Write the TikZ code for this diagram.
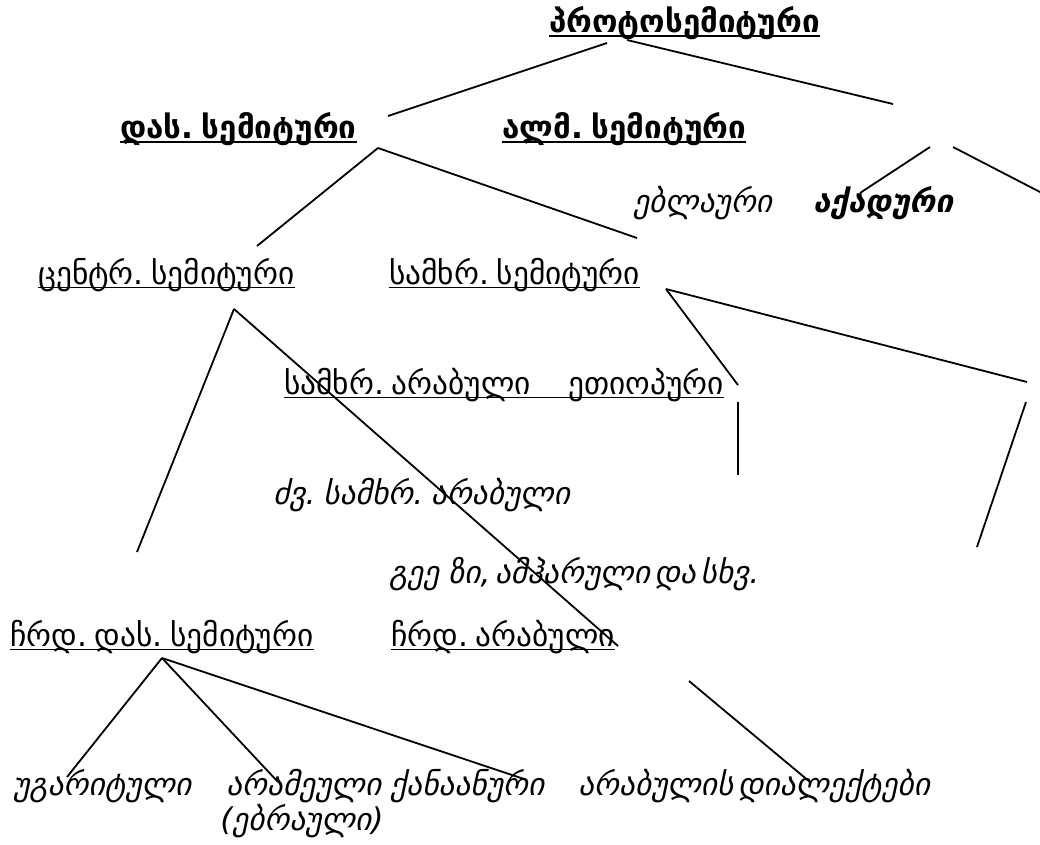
\documentclass[tikz,border=0pt]{standalone}
\usepackage{fontspec}
\setmainfont[WordSpace=0.45]{DejaVu Sans}
\usepackage{tikz}
\tikzset{
	lang/.style={inner sep=0pt, anchor=base west, font=\fontsize{23.5}{26}\selectfont},
	langit/.style={lang, font=\fontsize{23.5}{26}\selectfont\itshape},
	langbf/.style={lang, font=\fontsize{23.5}{26}\selectfont\bfseries},
	ulined/.style={append after command={([yshift=-2.8pt]\tikzlastnode.base west) edge[line width=#1] ([yshift=-2.8pt]\tikzlastnode.base east)}},
	ulined/.default=0.9pt,
	branch/.style={line width=1.35pt}
}

\begin{document}
\begin{tikzpicture}[x=0.75pt,y=-0.75pt]
							\fill[white] (0,0) rectangle (1040,844);
							\useasboundingbox (0,0) rectangle (1040,844);

							\coordinate (P1) at (607,43);
							\coordinate (P2) at (627,40);
							\coordinate (W) at (388,116);
							\coordinate (E) at (893,104);
							\coordinate (E1) at (930,147);
							\coordinate (E2) at (953,147);
							\coordinate (Eb) at (860,193);
							\coordinate (Er) at (1040,192);
							\coordinate (W1) at (378,148);
							\coordinate (C) at (257,246);
							\coordinate (S) at (637,238);
							\coordinate (C1) at (234,309);
							\coordinate (N) at (137,552);
							\coordinate (Na) at (618,646);
							\coordinate (S1) at (666,289);
							\coordinate (Sa) at (738,385);
							\coordinate (Sb) at (1027,382);
							\coordinate (Sa1) at (738,402);
							\coordinate (Sa2) at (738,475);
							\coordinate (Sb1) at (1026,402);
							\coordinate (Sb2) at (977,547);
							\coordinate (Na1) at (689,681);
							\coordinate (D) at (810,782);
							\coordinate (N1) at (162,658);
							\coordinate (U) at (67,777);
							\coordinate (A) at (278,782);
							\coordinate (K) at (524,779);

							\draw[branch] (P1) -- (W);
							\draw[branch] (P2) -- (E);
							\draw[branch] (E1) -- (Eb);
							\draw[branch] (E2) -- (Er);
							\draw[branch] (W1) -- (C);
							\draw[branch] (W1) -- (S);
							\draw[branch] (C1) -- (N);
							\draw[branch] (C1) -- (Na);
							\draw[branch] (S1) -- (Sa);
							\draw[branch] (S1) -- (Sb);
							\draw[branch] (Sa1) -- (Sa2);
							\draw[branch] (Sb1) -- (Sb2);
							\draw[branch] (Na1) -- (D);
							\draw[branch] (N1) -- (U);
							\draw[branch] (N1) -- (A);
							\draw[branch] (N1) -- (K);

							\node[langbf, ulined=1.4pt] (proto) at (549,32) {პროტოსემიტური};
							\node[langbf, ulined=1.4pt] (das) at (120,138) {დას. სემიტური};
							\node[langbf, ulined=1.4pt] (alm) at (502,138) {ალმ. სემიტური};
							\node[langit] (ebla) at (633,212) {ებლაური};
							\node[langbf, font=\fontsize{23.5}{26}\selectfont\bfseries\itshape] (akad) at (813,212) {აქადური};
							\node[lang, ulined] (centr) at (38,284) {ცენტრ. სემიტური\ };
							\node[lang, ulined] (samkhr) at (389,284) {სამხრ. სემიტური};
							\node[lang, ulined] (sarab) at (284,394) {სამხრ. არაბული\hspace{1.2em}ეთიოპური};
							\node[langit] (dzv) at (273,504) {ძვ. სამხრ. არაბული};
							\node[langit] (geez) at (389,583) {გეე\hspace{0.3em}ზი, ამჰარული და სხვ.};
							\node[lang, ulined] (chrd) at (10,646) {ჩრდ. დას. სემიტური};
							\node[lang, ulined] (chrdarab) at (391,646) {ჩრდ. არაბული};
							\node[langit] (ugar) at (13,795) {უგარიტული};
							\node[langit] (aram) at (226,795) {არამეული};
							\node[langit] (ebr) at (220,830) {(ებრაული)};
							\node[langit] (kanaan) at (390,795) {ქანაანური};
							\node[langit] (dial) at (578,795) {არაბულის დიალექტები};

						\end{tikzpicture}
\end{document}
